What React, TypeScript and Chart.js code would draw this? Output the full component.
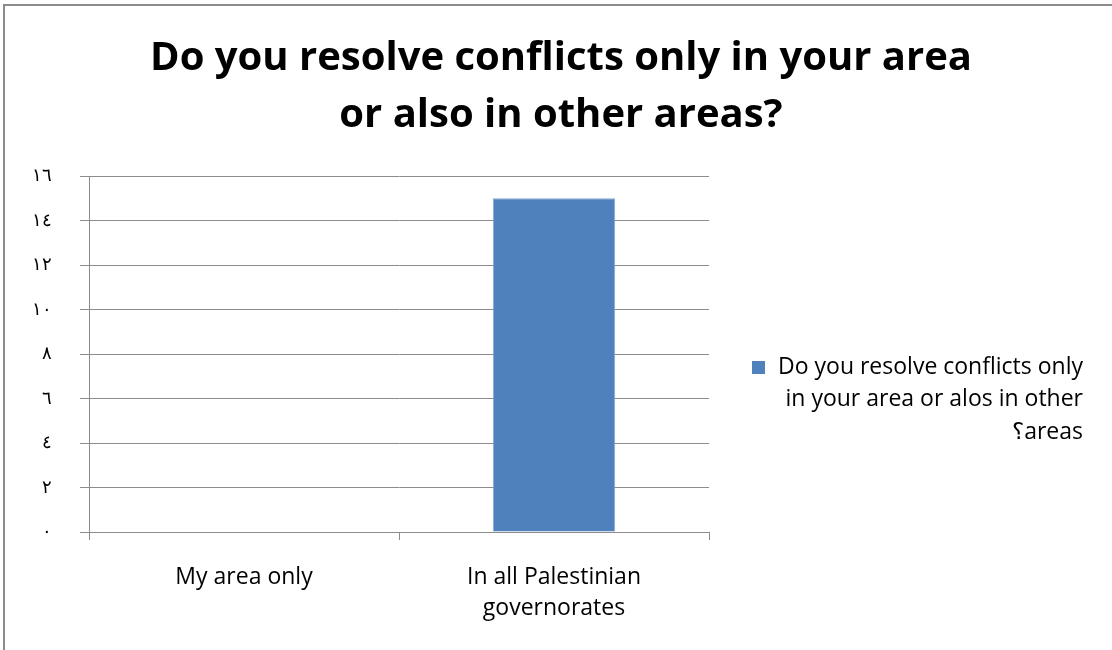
import React, { useEffect, useRef } from "react";
import { Chart, registerables } from "chart.js";

Chart.register(...registerables);

const categories: (string | string[])[] = ["My area only", ["In all Palestinian", "governorates"]];
const seriesLabel = "Do you resolve conflicts only in your area or alos in other areas؟";
const seriesValues = [0, 15];
const titleLines = ["Do you resolve conflicts only in your area", "or also in other areas?"];
const legendLines = ["Do you resolve conflicts only", "in your area or alos in other", "؟areas"];
const yTickMax = 16;
const yTickStep = 2;
const arabicDigits = ["٠", "١", "٢", "٣", "٤", "٥", "٦", "٧", "٨", "٩"];

const FONT = "'Open Sans', sans-serif";
const BAR_COLOR = "#4F81BD";

function toArabic(n: number): string {
  return String(n)
    .split("")
    .map((c) => (c >= "0" && c <= "9" ? arabicDigits[+c] : c))
    .join("");
}

const decorPlugin = {
  id: "decor",
  beforeDraw(chart: any) {
    const ctx = chart.ctx;
    ctx.save();
    ctx.fillStyle = "#ffffff";
    ctx.fillRect(0, 0, chart.width, chart.height);
    ctx.strokeStyle = "#8c8c8c";
    ctx.lineWidth = 2;
    ctx.strokeRect(4, 5, 3000, 3000);
    ctx.restore();
  },
  afterDraw(chart: any) {
    const ctx = chart.ctx;
    ctx.save();
    // title
    ctx.fillStyle = "#000000";
    ctx.font = `bold 40px ${FONT}`;
    ctx.textAlign = "center";
    ctx.textBaseline = "middle";
    const titleY = [59, 116];
    titleLines.forEach((t, i) => ctx.fillText(t, 561, titleY[i]));
    // legend
    const ds = chart.data.datasets[0];
    ctx.fillStyle = ds.backgroundColor;
    ctx.fillRect(752, 361, 13, 13);
    ctx.fillStyle = "#000000";
    ctx.font = `23px ${FONT}`;
    ctx.textAlign = "right";
    const legY = [367, 399, 432];
    legendLines.forEach((t, i) => ctx.fillText(t, 1083, legY[i]));
    ctx.restore();
  },
};

export default function App() {
  const ref = useRef<HTMLCanvasElement>(null);
  useEffect(() => {
    if (!ref.current) return;
    const chart = new Chart(ref.current, {
      type: "bar",
      data: {
        labels: categories as any,
        datasets: [
          {
            label: seriesLabel,
            data: seriesValues,
            backgroundColor: BAR_COLOR,
            borderColor: "#8aaad4",
            borderWidth: 1,
            categoryPercentage: 1,
            barPercentage: 0.395,
          },
        ],
      },
      options: {
        responsive: false,
        animation: false,
        layout: { padding: { left: 0, right: 403, top: 176, bottom: 0 } },
        plugins: {
          legend: { display: false },
          title: { display: false },
          tooltip: { enabled: false },
        },
        scales: {
          x: {
            afterFit: (s: any) => {
              s.height = 118;
            },
            grid: {
              offset: true,
              drawOnChartArea: false,
              drawTicks: true,
              tickLength: 8,
              color: "#8c8c8c",
            },
            border: { display: true, color: "#8c8c8c" },
            ticks: {
              color: "#000000",
              padding: 22,
              font: { family: FONT, size: 23, lineHeight: 1.35 },
              maxRotation: 0,
              autoSkip: false,
            },
          },
          y: {
            min: 0,
            max: yTickMax,
            afterFit: (s: any) => {
              s.width = 89;
            },
            grid: {
              color: "#8c8c8c",
              drawTicks: true,
              tickLength: 9,
            },
            border: { display: true, color: "#8c8c8c" },
            ticks: {
              stepSize: yTickStep,
              color: "#000000",
              padding: 28,
              font: { family: FONT, size: 18 },
              callback: (v: any) => toArabic(Number(v)),
            },
          },
        },
      },
      plugins: [decorPlugin],
    });
    return () => chart.destroy();
  }, []);
  return (
    <div style={{ position: "fixed", left: 0, top: 0, width: 1112, height: 650, background: "#fff" }}>
      <canvas ref={ref} width={1112} height={650} style={{ display: "block" }} />
    </div>
  );
}
